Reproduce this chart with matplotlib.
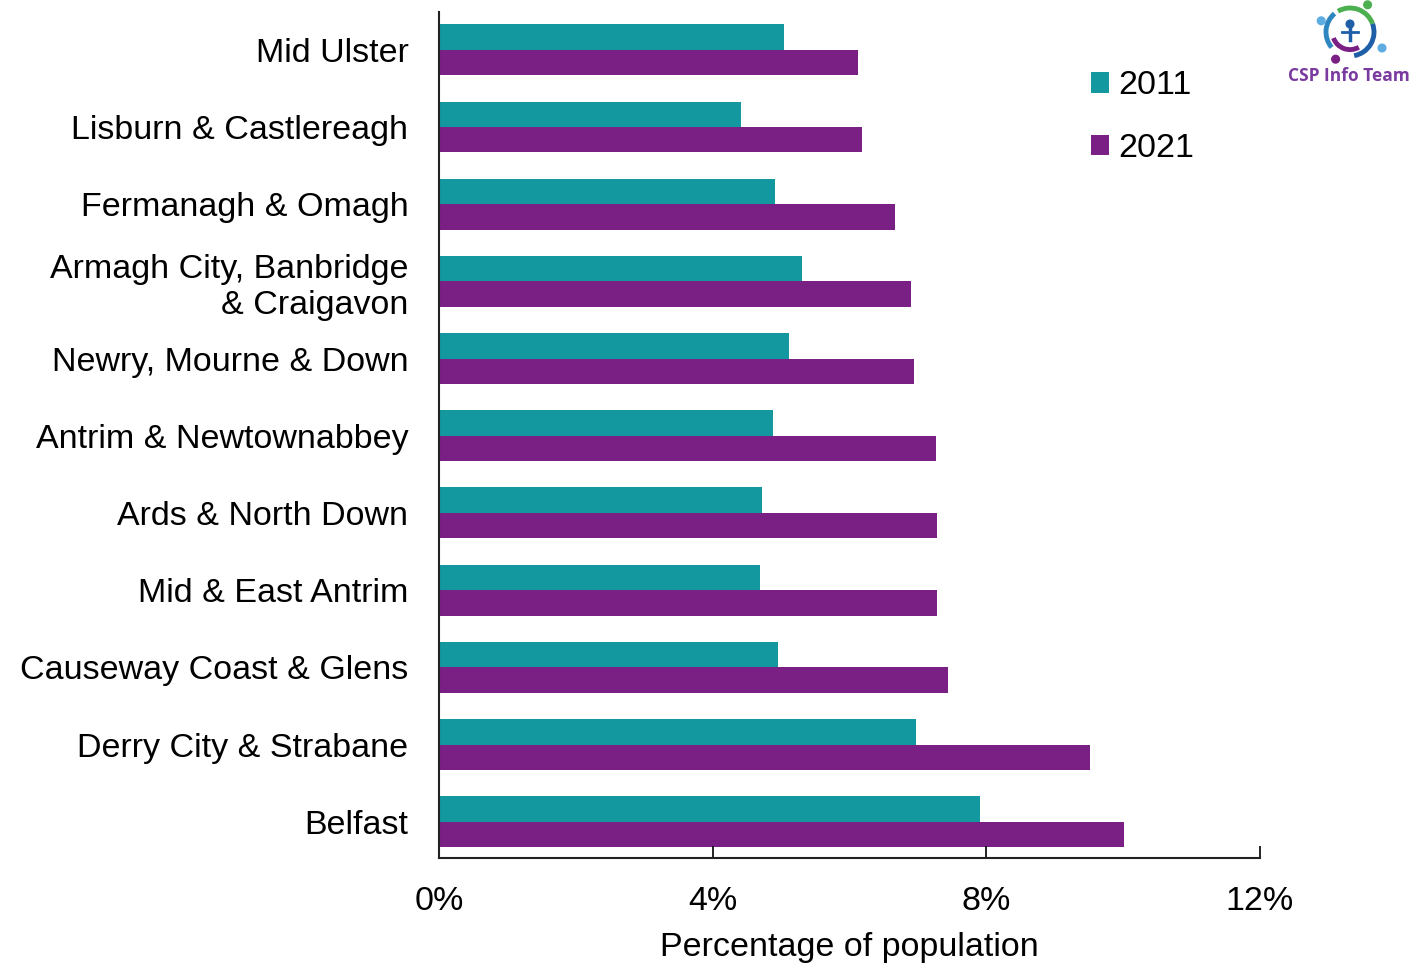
import matplotlib
matplotlib.use("Agg")
import matplotlib.pyplot as plt
from matplotlib.patches import Rectangle, Circle, Arc
import numpy as np

plt.rcParams['font.family'] = ['Liberation Sans', 'DejaVu Sans']

categories = ["Mid Ulster", "Lisburn & Castlereagh", "Fermanagh & Omagh",
              "Armagh City, Banbridge\n& Craigavon", "Newry, Mourne & Down",
              "Antrim & Newtownabbey", "Ards & North Down", "Mid & East Antrim",
              "Causeway Coast & Glens", "Derry City & Strabane", "Belfast"]
values_2011 = [5.04, 4.42, 4.91, 5.31, 5.12, 4.88, 4.72, 4.69, 4.96, 6.97, 7.91]
values_2021 = [6.13, 6.18, 6.67, 6.90, 6.94, 7.27, 7.28, 7.28, 7.44, 9.52, 10.01]
series_labels = ["2011", "2021"]
xticks = [0, 4, 8, 12]
xtick_labels = ["0%", "4%", "8%", "12%"]

c2011 = "#13989f"
c2021 = "#7a1f83"

FS = 24.5

fig = plt.figure(figsize=(14.12, 9.63), dpi=100)
ax = fig.add_axes([439/1412, 1-858/963, (1260-439)/1412, (858-12)/963])

y = np.arange(len(categories))
h = 0.33
ax.barh(y - h/2, values_2011, height=h, color=c2011, label=series_labels[0])
ax.barh(y + h/2, values_2021, height=h, color=c2021, label=series_labels[1])

ax.set_ylim(len(categories) - 1 + 0.47, -0.49)
ax.set_xlim(0, 12)
ax.set_yticks(y)
ax.set_yticklabels(categories, fontsize=FS, ha='right', multialignment='right',
                   linespacing=1.2)
ax.tick_params(axis='y', length=0, pad=22)
ax.set_xticks(xticks)
ax.set_xticklabels(xtick_labels, fontsize=FS)
ax.tick_params(axis='x', direction='in', length=9, width=1.2, pad=20, colors='black')
for s in ['top', 'right']:
    ax.spines[s].set_visible(False)
for s in ['left', 'bottom']:
    ax.spines[s].set_linewidth(1.5)
    ax.spines[s].set_color('#222222')
ax.set_xlabel("Percentage of population", fontsize=FS, labelpad=11)

leg = ax.legend(loc='upper left', bbox_to_anchor=(0.777, 0.947), frameon=False,
                fontsize=FS, handlelength=0.55, handleheight=0.55, handletextpad=0.25,
                labelspacing=0.93, borderaxespad=0)

# Logo
lax = fig.add_axes([1305/1412, 1-64/963, 90/1412, 64/963])
lax.set_xlim(-1.35, 1.35)
lax.set_ylim(-1.0, 1.0)
lax.set_aspect('equal')
lax.axis('off')
lax.add_patch(Arc((0, 0), 1.5, 1.5, theta1=20, theta2=120, color='#4caf50', lw=3.5))
lax.add_patch(Arc((0, 0), 1.5, 1.5, theta1=130, theta2=220, color='#2e86c1', lw=3.5))
lax.add_patch(Arc((0, 0), 1.1, 1.1, theta1=200, theta2=300, color='#7a1f83', lw=3.5))
lax.add_patch(Arc((0, 0), 1.5, 1.5, theta1=280, theta2=380, color='#1f5fa8', lw=3.5))
lax.add_patch(Circle((0.55, 0.85), 0.12, color='#4caf50'))
lax.add_patch(Circle((-0.9, 0.35), 0.12, color='#5dade2'))
lax.add_patch(Circle((1.0, -0.5), 0.12, color='#5dade2'))
lax.add_patch(Circle((-0.45, -0.85), 0.12, color='#7a1f83'))
lax.add_patch(Circle((0, 0.25), 0.12, color='#1f5fa8'))
lax.plot([0, 0], [0.12, -0.25], color='#1f5fa8', lw=2.5)
lax.plot([-0.25, 0.25], [0.0, 0.0], color='#1f5fa8', lw=2)
fig.text(1349/1412, 1-76/963, "CSP Info Team", ha='center', va='center',
         fontsize=12.5, fontweight='bold', color='#7a3aa0',
         family=['Open Sans', 'DejaVu Sans'])

fig.savefig("out.png", dpi=100)
